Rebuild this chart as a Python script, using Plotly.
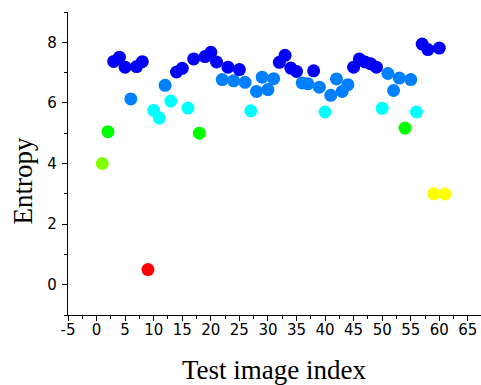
import plotly.graph_objects as go

index = list(range(1, 62))
entropy = [
    4.00, 5.05, 7.37, 7.51, 7.18, 6.13, 7.20, 7.36, 0.50, 5.75,
    5.50, 6.58, 6.06, 7.02, 7.14, 5.83, 7.45, 5.00, 7.53, 7.67,
    7.35, 6.77, 7.18, 6.73, 7.10, 6.68, 5.74, 6.38, 6.85, 6.44,
    6.80, 7.34, 7.57, 7.15, 7.04, 6.66, 6.63, 7.06, 6.52, 5.70,
    6.25, 6.79, 6.38, 6.60, 7.18, 7.45, 7.35, 7.29, 7.18, 5.82,
    6.97, 6.41, 6.82, 5.17, 6.77, 5.70, 7.94, 7.76, 3.00, 7.81,
    2.99,
]

x_ticks = list(range(-5, 66, 5))
y_ticks = [0, 2, 4, 6, 8]

# stepped colour scale (value 0..8)
steps = [(0.0, "#FF0000"), (2.0, "#FF0000"), (2.0, "#FFFF00"), (3.5, "#FFFF00"),
         (3.5, "#80FF00"), (4.5, "#80FF00"), (4.5, "#00FF00"), (5.4, "#00FF00"),
         (5.4, "#00FFFF"), (6.1, "#00FFFF"), (6.1, "#0080FF"), (6.99, "#0080FF"),
         (6.99, "#0000F5"), (8.0, "#0000F5")]
colorscale = [[v / 8.0, c] for v, c in steps]

fig = go.Figure()
fig.add_trace(go.Scatter(
    x=index, y=entropy, mode="markers",
    marker=dict(size=13, color=entropy, colorscale=colorscale, cmin=0, cmax=8,
                line=dict(width=0)),
    showlegend=False,
))

axis_font = dict(family="DejaVu Sans", size=15, color="#000")
title_font = dict(family="Liberation Serif, Times New Roman", size=27, color="#000")
fig.update_layout(
    width=481, height=385,
    margin=dict(l=68, r=0, t=12, b=70),
    plot_bgcolor="white", paper_bgcolor="white",
    xaxis=dict(range=[-5, 67.3], tickvals=x_ticks, ticktext=[str(v) for v in x_ticks],
               showline=True, linecolor="#000", linewidth=1.2, mirror=False,
               ticks="outside", ticklen=5, tickwidth=1, tickcolor="#000",
               minor=dict(dtick=2.5, tick0=-5, ticks="outside", ticklen=3, tickcolor="#000"),
               showgrid=False, zeroline=False, tickfont=axis_font,
               ticklabelstandoff=-4),
    yaxis=dict(range=[-1, 9], tickvals=y_ticks, ticktext=[str(v) for v in y_ticks],
               showline=True, linecolor="#000", linewidth=1.2, mirror=False,
               ticks="outside", ticklen=5, tickwidth=1, tickcolor="#000",
               minor=dict(dtick=1, tick0=0, ticks="outside", ticklen=3, tickcolor="#000"),
               showgrid=False, zeroline=False, tickfont=axis_font,
               ticklabelstandoff=2),
    annotations=[
        dict(text="Entropy", textangle=-90, xref="paper", yref="paper",
             x=-0.109, y=0.444, xanchor="center", yanchor="middle", showarrow=False,
             font=title_font),
        dict(text="Test image index", xref="paper", yref="paper",
             x=0.5, y=-0.18, xanchor="center", yanchor="middle", showarrow=False,
             font=title_font),
    ],
)

fig.write_html("out.html")
